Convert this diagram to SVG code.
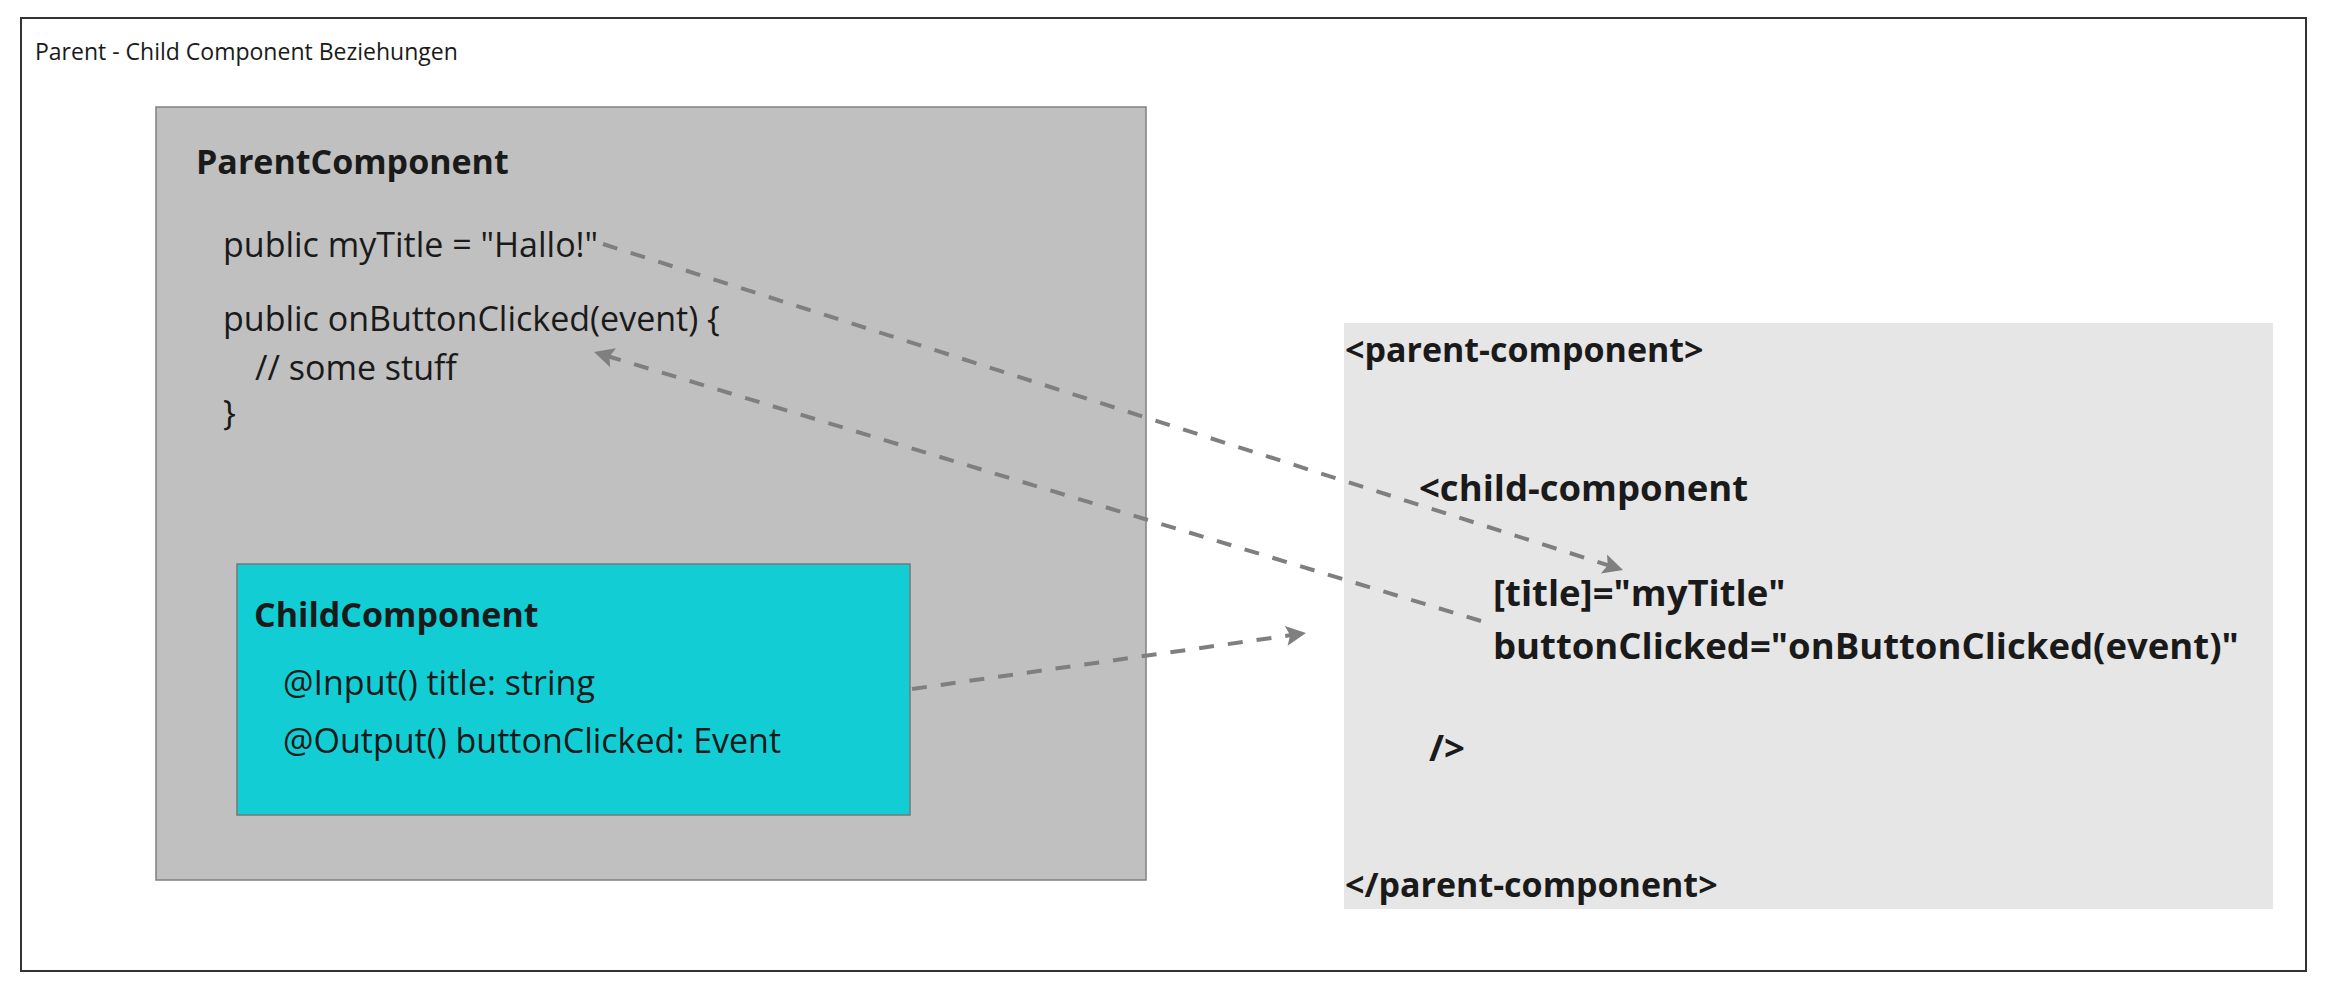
<svg xmlns="http://www.w3.org/2000/svg" width="2326" height="990" viewBox="0 0 2326 990">
<style>
.t{font-family:"Open Sans","Liberation Sans",sans-serif;fill:#1a1a1a}
.r{font-weight:400;font-size:34px}
.b{font-weight:700;font-size:34px}
.b2{font-weight:700;font-size:36.5px}
.conn{fill:none;stroke:#7f7f7f;stroke-width:4;stroke-dasharray:15 14}
</style>
<defs>
<marker id="ah" markerUnits="userSpaceOnUse" markerWidth="26" markerHeight="26" viewBox="0 0 26 26" refX="22" refY="13" orient="auto">
<path d="M2,3 L22,13 L2,23 L6,13 Z" fill="#7f7f7f"/>
</marker>
</defs>
<rect x="0" y="0" width="2326" height="990" fill="#ffffff"/>
<g id="frame">
<rect x="21" y="18" width="2285" height="953" fill="#ffffff" stroke="#333333" stroke-width="2"/>
<text class="t" x="35" y="60" font-size="23">Parent - Child Component Beziehungen</text>
</g>
<g id="parent">
<rect x="156" y="107" width="990" height="773" fill="#c0c0c0" stroke="#808080" stroke-width="1.5"/>
<text class="t b" x="196" y="174">ParentComponent</text>
<text class="t r" x="223" y="257">public myTitle = "Hallo!"</text>
<text class="t r" x="223" y="331">public onButtonClicked(event) {</text>
<text class="t r" x="255" y="380">// some stuff</text>
<text class="t r" x="223" y="425">}</text>
</g>
<g id="child">
<rect x="237" y="564" width="673" height="251" fill="#12ced4" stroke="#777777" stroke-width="1.5"/>
<text class="t b" x="254" y="627">ChildComponent</text>
<text class="t r" x="283" y="695">@Input() title: string</text>
<text class="t r" x="283" y="753">@Output() buttonClicked: Event</text>
</g>
<g id="template">
<rect x="1344" y="323" width="929" height="586" fill="#e6e6e6"/>
<text class="t b" x="1345" y="362">&lt;parent-component&gt;</text>
<text class="t b2" x="1419" y="501">&lt;child-component</text>
<text class="t b2" x="1493" y="606">[title]="myTitle"</text>
<text class="t b2" x="1493" y="659">buttonClicked="onButtonClicked(event)"</text>
<text class="t b2" x="1429" y="761">/&gt;</text>
<text class="t b" x="1345" y="897">&lt;/parent-component&gt;</text>
</g>
<g id="connectors">
<line class="conn" x1="603" y1="244" x2="1623" y2="570" marker-end="url(#ah)"/>
<line class="conn" x1="1481" y1="621" x2="594" y2="352" marker-end="url(#ah)"/>
<line class="conn" x1="912" y1="689" x2="1306" y2="633" marker-end="url(#ah)"/>
</g>
</svg>
